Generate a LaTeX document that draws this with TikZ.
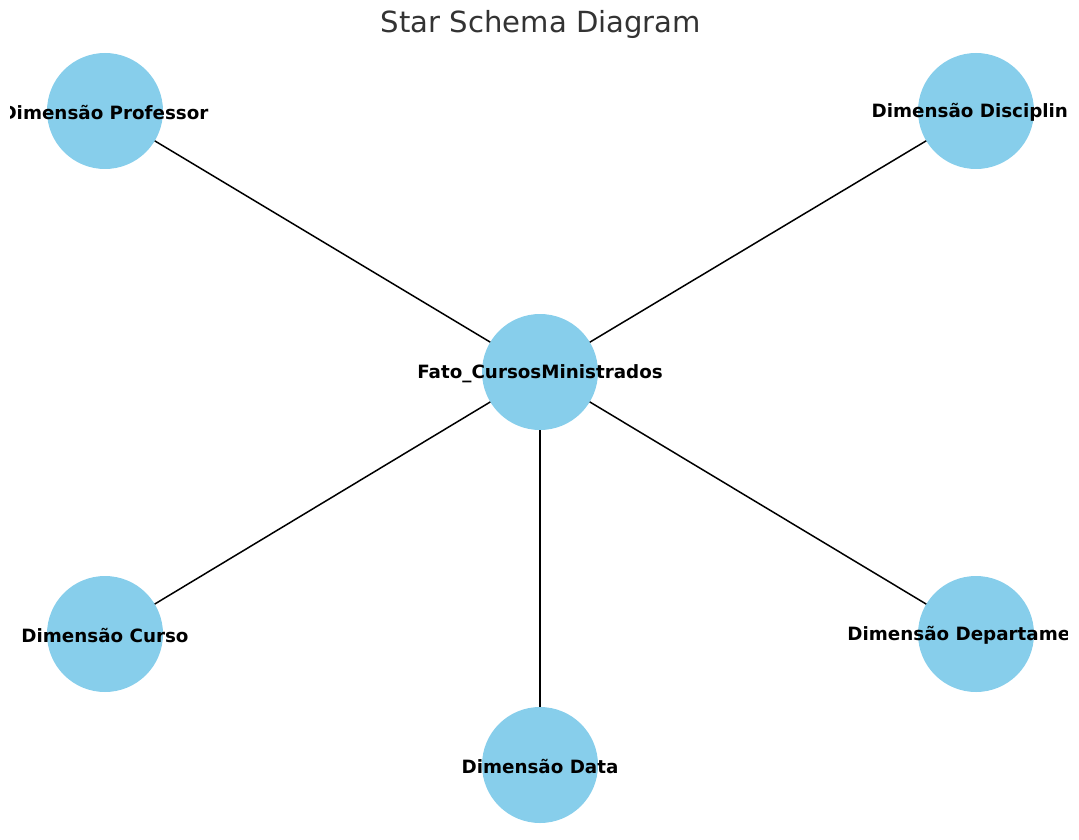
\documentclass[tikz,border=0pt]{standalone}
\usepackage{fontspec}
\setmainfont{DejaVu Sans}
\definecolor{skyblue}{HTML}{87CEEB}
\definecolor{titlegray}{HTML}{333333}
\begin{document}
\begin{tikzpicture}[x=1pt,y=-1pt,
  dimnode/.style={circle,fill=skyblue,minimum size=116pt,inner sep=0pt},
  dimlabel/.style={font=\fontsize{18.3}{20}\selectfont\bfseries,text=black,inner sep=0pt,yshift=-1.5pt},
  link/.style={draw=black,line width=1.5pt}]
\useasboundingbox (0,0) rectangle (1079,840);
% node positions
\coordinate (pf) at (540,372);
\coordinate (pp) at (105,111);
\coordinate (pd) at (976,111);
\coordinate (pc) at (105,634);
\coordinate (pdep) at (976,634);
\coordinate (pdt) at (540,765);
% connectors beneath the circles
\draw[link] (pf) -- (pp);
\draw[link] (pf) -- (pd);
\draw[link] (pf) -- (pc);
\draw[link] (pf) -- (pdep);
\draw[link] (pf) -- (pdt);
% circles
\node[dimnode] (fato) at (pf) {};
\node[dimnode] (prof) at (pp) {};
\node[dimnode] (disc) at (pd) {};
\node[dimnode] (curso) at (pc) {};
\node[dimnode] (dep) at (pdep) {};
\node[dimnode] (data) at (pdt) {};
% labels, clipped to the plotting area
\begin{scope}
\clip (10.5,0) rectangle (1067.5,840);
\node[dimlabel] (lfato) at (pf) {Fato\_CursosMinistrados};
\node[dimlabel] (lprof) at (pp) {Dimensão Professor};
\node[dimlabel] (ldisc) at (pd) {Dimensão Disciplina};
\node[dimlabel] (lcurso) at (pc) {Dimensão Curso};
\node[dimlabel] (ldep) at (pdep) {Dimensão Departamento};
\node[dimlabel] (ldata) at (pdt) {Dimensão Data};
\end{scope}
% title
\node[font=\fontsize{29.1}{32}\selectfont,text=titlegray,inner sep=0pt] (title) at (541,24) {Star Schema Diagram};
\end{tikzpicture}
\end{document}
